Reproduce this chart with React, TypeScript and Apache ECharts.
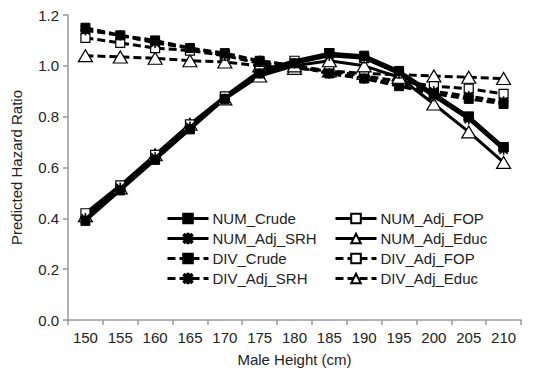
import React, { useEffect, useRef } from "react";
import * as echarts from "echarts";

const categories = ["150", "155", "160", "165", "170", "175", "180", "185", "190", "195", "200", "205", "210"];
const yTicks = [0, 0.2, 0.4, 0.6, 0.8, 1.0, 1.2];

const numCrude = [0.39, 0.51, 0.63, 0.75, 0.87, 0.97, 1.01, 1.05, 1.04, 0.98, 0.89, 0.80, 0.68];
const numAdjFop = [0.42, 0.53, 0.65, 0.77, 0.88, 0.98, 1.02, 1.05, 1.03, 0.97, 0.89, 0.80, 0.68];
const numAdjSrh = [0.40, 0.52, 0.64, 0.76, 0.87, 0.97, 1.01, 1.04, 1.03, 0.97, 0.88, 0.79, 0.67];
const numAdjEduc = [0.41, 0.52, 0.65, 0.77, 0.87, 0.96, 1.00, 1.02, 1.00, 0.955, 0.85, 0.74, 0.62];

const divCrude = [1.15, 1.12, 1.10, 1.07, 1.05, 1.02, 1.00, 0.97, 0.95, 0.92, 0.89, 0.87, 0.85];
const divAdjFop = [1.11, 1.09, 1.07, 1.06, 1.04, 1.01, 1.00, 0.98, 0.96, 0.94, 0.92, 0.91, 0.89];
const divAdjSrh = [1.14, 1.12, 1.09, 1.07, 1.04, 1.02, 1.00, 0.97, 0.95, 0.93, 0.90, 0.88, 0.86];
const divAdjEduc = [1.04, 1.035, 1.03, 1.02, 1.015, 1.00, 0.99, 0.98, 0.97, 0.965, 0.96, 0.955, 0.95];

const FONT = "'Liberation Sans', Arial, sans-serif";
const STAR =
  "path://M0,4.3 L10,4.3 L10,5.7 L0,5.7 Z M4.3,0 L5.7,0 L5.7,10 L4.3,10 Z " +
  "M0.5,1.5 L1.5,0.5 L9.5,8.5 L8.5,9.5 Z M8.5,0.5 L9.5,1.5 L1.5,9.5 L0.5,8.5 Z";

type Marker = "filled" | "square" | "star" | "tri";

function mk(name: string, data: number[], marker: Marker, dashed: boolean) {
  let symbol = "rect";
  let symbolSize: number | number[] = 9;
  let color = "#000";
  let borderWidth = 1;
  if (marker === "square") {
    color = "#fff";
    borderWidth = 1.2;
  } else if (marker === "star") {
    symbol = STAR;
    symbolSize = 10;
    borderWidth = 0.3;
  } else if (marker === "tri") {
    symbol = "triangle";
    symbolSize = [14, 12];
    color = "#fff";
    borderWidth = 1.2;
  }
  return {
    name,
    type: "line",
    data,
    symbol,
    symbolSize,
    showAllSymbol: true,
    lineStyle: {
      color: "#000",
      width: 3,
      type: dashed ? [8, 4] : "solid",
    },
    itemStyle: { color, borderColor: "#000", borderWidth },
    emphasis: { disabled: true },
  };
}

export default function App() {
  const ref = useRef<HTMLDivElement>(null);
  useEffect(() => {
    if (!ref.current) return;
    const chart = echarts.init(ref.current, undefined, { renderer: "svg" });
    const legendCommon = {
      orient: "vertical",
      top: 206,
      itemWidth: 41,
      itemHeight: 12,
      itemGap: 5,
      lineStyle: { width: 3 },
      textStyle: { fontFamily: FONT, fontSize: 15, color: "#222", padding: [0, 0, 0, -1] },
    };
    chart.setOption({
      animation: false,
      backgroundColor: "#fff",
      grid: { left: 68, right: 23, top: 15, bottom: 55, containLabel: false },
      legend: [
        { ...legendCommon, left: 161, data: ["NUM_Crude", "NUM_Adj_SRH", "DIV_Crude", "DIV_Adj_SRH"] },
        { ...legendCommon, left: 329, data: ["NUM_Adj_FOP", "NUM_Adj_Educ", "DIV_Adj_FOP", "DIV_Adj_Educ"] },
      ],
      xAxis: {
        type: "category",
        data: categories,
        boundaryGap: true,
        name: "Male Height (cm)",
        nameLocation: "middle",
        nameGap: 32,
        nameTextStyle: { fontFamily: FONT, fontSize: 15, color: "#222" },
        axisLine: { lineStyle: { color: "#999", width: 1.5 } },
        axisTick: { show: true, length: 5, lineStyle: { color: "#999", width: 1.5 } },
        axisLabel: { fontFamily: FONT, fontSize: 15, color: "#222", margin: 10 },
        splitLine: { show: false },
      },
      yAxis: {
        type: "value",
        min: 0,
        max: 1.2,
        interval: 0.2,
        name: "Predicted Hazard Ratio",
        nameLocation: "middle",
        nameGap: 44,
        nameTextStyle: { fontFamily: FONT, fontSize: 15, color: "#222" },
        axisLine: { show: true, lineStyle: { color: "#999", width: 1.5 } },
        axisTick: { show: true, length: 5, lineStyle: { color: "#999", width: 1.5 } },
        axisLabel: {
          fontFamily: FONT,
          fontSize: 15,
          color: "#222",
          margin: 9,
          formatter: (v: number) => (yTicks.includes(Math.round(v * 10) / 10) ? v.toFixed(1) : ""),
        },
        splitLine: { show: false },
      },
      series: [
        mk("DIV_Adj_Educ", divAdjEduc, "tri", true),
        mk("DIV_Adj_FOP", divAdjFop, "square", true),
        mk("DIV_Adj_SRH", divAdjSrh, "star", true),
        mk("DIV_Crude", divCrude, "filled", true),
        mk("NUM_Adj_Educ", numAdjEduc, "tri", false),
        mk("NUM_Adj_FOP", numAdjFop, "square", false),
        mk("NUM_Adj_SRH", numAdjSrh, "star", false),
        mk("NUM_Crude", numCrude, "filled", false),
      ],
    });
    return () => chart.dispose();
  }, []);
  return (
    <div
      ref={ref}
      style={{ position: "fixed", left: 0, top: 0, width: 544, height: 375, background: "#fff" }}
    />
  );
}
